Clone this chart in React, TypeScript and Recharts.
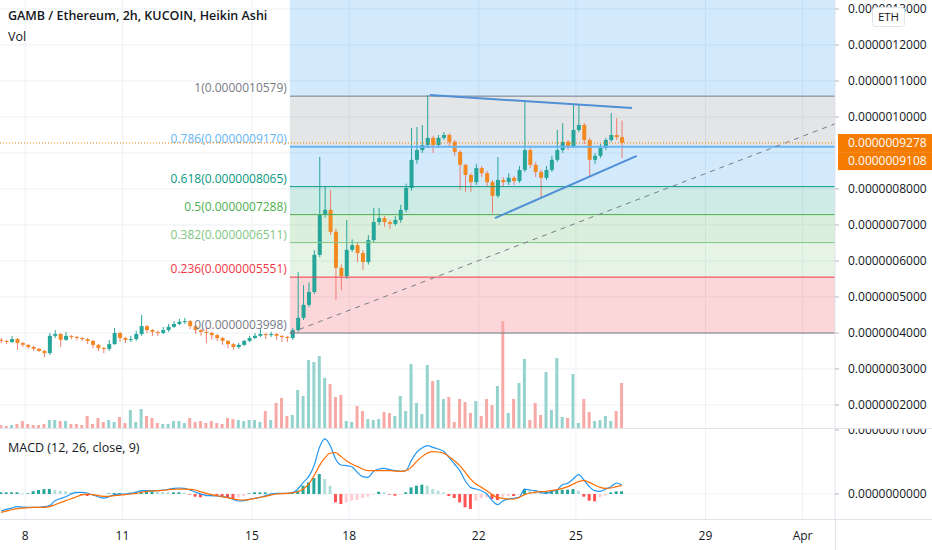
import React from "react";
import {
  Bar,
  CartesianGrid,
  Cell,
  ComposedChart,
  Line,
  ReferenceArea,
  ReferenceLine,
  XAxis,
  YAxis,
} from "recharts";

// Heikin Ashi candles, one per 4 hours starting 7 Mar 06:00 (prices in 1e-9 ETH)
const startDay = 7.25;
const haOpen = [
  381, 378, 375, 383, 372, 367, 361, 356, 350, 344,
  392, 397, 381, 392, 389, 386, 383, 378, 367, 358,
  356, 369, 400, 386, 381, 383, 397, 419, 408, 403,
  400, 408, 417, 425, 431, 433, 419, 408, 403, 400,
  394, 386, 378, 369, 361, 367, 378, 386, 392, 397,
  394, 397, 392, 389, 386, 408, 442, 478, 514, 617,
  728, 742, 681, 581, 558, 631, 644, 622, 597, 658,
  708, 719, 708, 703, 714, 742, 803, 881, 908, 922,
  942, 922, 942, 950, 931, 903, 867, 839, 819, 858,
  844, 819, 781, 825, 819, 831, 822, 853, 908, 867,
  847, 831, 853, 881, 908, 931, 919, 964, 978, 936,
  881, 892, 914, 936, 950, 944,
];
const haHigh = [
  386, 381, 392, 386, 375, 369, 364, 358, 353, 400,
  408, 400, 403, 394, 392, 389, 386, 381, 369, 361,
  381, 414, 403, 389, 392, 406, 450, 422, 411, 406,
  417, 425, 433, 439, 442, 436, 422, 411, 414, 403,
  397, 389, 381, 372, 372, 381, 392, 400, 414, 400,
  403, 400, 394, 392, 414, 569, 533, 540, 630, 889,
  806, 797, 690, 590, 714, 660, 650, 630, 672, 747,
  747, 725, 714, 725, 756, 815, 969, 972, 978, 1061,
  948, 950, 958, 955, 936, 908, 870, 844, 870, 864,
  850, 825, 889, 833, 844, 836, 864, 1047, 914, 875,
  853, 864, 892, 964, 983, 936, 1033, 1033, 983, 942,
  900, 925, 942, 1011, 997, 990,
];
const haLow = [
  372, 369, 372, 353, 361, 356, 350, 347, 333, 339,
  386, 361, 378, 383, 381, 378, 369, 358, 350, 344,
  350, 367, 375, 372, 375, 378, 392, 400, 392, 392,
  397, 403, 414, 422, 425, 411, 397, 392, 372, 381,
  378, 367, 358, 353, 356, 364, 375, 383, 389, 383,
  389, 381, 375, 375, 381, 403, 436, 472, 508, 610,
  720, 672, 492, 519, 550, 625, 597, 575, 590, 650,
  700, 695, 690, 698, 706, 735, 795, 870, 900, 914,
  900, 914, 936, 920, 892, 797, 792, 792, 811, 833,
  806, 733, 775, 806, 811, 811, 817, 847, 858, 833,
  778, 825, 847, 875, 900, 908, 914, 958, 925, 833,
  870, 886, 908, 931, 936, 886,
];
const haClose = [
  378, 375, 383, 372, 367, 361, 356, 350, 344, 392,
  397, 381, 392, 389, 386, 383, 378, 367, 358, 356,
  369, 400, 386, 381, 383, 397, 419, 408, 403, 400,
  408, 417, 425, 431, 433, 419, 408, 403, 400, 394,
  386, 378, 369, 361, 367, 378, 386, 392, 397, 394,
  397, 392, 389, 386, 408, 442, 478, 514, 617, 728,
  742, 681, 581, 558, 631, 644, 622, 597, 658, 708,
  719, 708, 703, 714, 742, 803, 881, 908, 922, 942,
  922, 942, 950, 931, 903, 867, 839, 819, 858, 844,
  819, 781, 825, 819, 831, 822, 853, 908, 867, 847,
  831, 853, 881, 908, 931, 919, 964, 978, 936, 881,
  892, 914, 936, 950, 944, 928,
];
const volume = [
  3, 2, 3, 4, 7, 4, 3, 3, 4, 8,
  8, 7, 7, 4, 4, 3, 12, 4, 10, 6,
  8, 6, 11, 5, 18, 6, 19, 12, 10, 5,
  4, 4, 7, 7, 5, 10, 6, 7, 5, 7,
  5, 4, 10, 9, 8, 7, 8, 8, 6, 17,
  8, 25, 30, 12, 13, 38, 32, 68, 66, 72,
  50, 44, 31, 33, 7, 6, 22, 17, 9, 8,
  9, 16, 15, 12, 32, 17, 64, 25, 14, 63,
  47, 48, 29, 31, 6, 29, 26, 15, 27, 12,
  29, 23, 42, 107, 15, 29, 45, 69, 8, 25,
  13, 56, 18, 70, 11, 10, 54, 5, 29, 16,
  7, 8, 12, 7, 17, 45,
];
// MACD (12, 26, close, 9), in 1e-9 ETH
const macdLine = [
  -26.1, -24.0, -21.9, -19.8, -20.3, -20.8, -20.8, -20.8, -19.8, -18.2,
  -10.4, -7.3, -4.2, 0, 2.6, 2.6, 1.6, -1.6, -4.2, -6.3,
  -4.2, -1.0, 0, 0, 1.0, 2.6, 5.2, 5.2, 5.2, 5.2,
  6.3, 7.3, 8.9, 9.4, 8.9, 6.3, 3.1, 0, -2.1, -2.6,
  -3.1, -4.2, -5.2, -8.3, -10.9, -10.4, -8.3, -6.8, -5.2, -2.6,
  0, 1.0, 1.0, 1.0, 2.1, 7.8, 18.2, 27.1, 44.3, 72.9,
  86.0, 75.5, 54.7, 45.3, 44.3, 42.7, 33.9, 27.1, 26.1, 35.4,
  39.1, 40.1, 38.0, 36.5, 35.4, 36.5, 52.1, 65.1, 71.9, 75.5,
  72.9, 70.3, 66.7, 57.3, 46.9, 36.5, 20.8, 10.4, 7.8, 5.2,
  0, -10.4, -16.7, -10.4, -7.8, -6.8, -5.2, 7.8, 6.3, 5.2,
  2.6, 1.0, 4.2, 6.3, 14.6, 16.7, 23.4, 30.2, 21.9, 11.5,
  5.2, 4.2, 7.8, 11.5, 17.2, 14.6,
];
const signalLine = [
  -28.7, -26.6, -24.5, -22.9, -21.9, -21.4, -20.8, -20.8, -20.8, -19.8,
  -16.7, -13.5, -10.4, -7.3, -4.2, -1.0, 0, -1.0, -2.6, -3.6,
  -3.6, -2.6, -1.6, -1.0, 0, 1.0, 2.6, 4.2, 4.7, 5.2,
  5.7, 6.8, 7.3, 7.8, 7.8, 7.3, 6.3, 3.6, 1.0, -1.0,
  -2.6, -4.2, -5.7, -7.3, -8.9, -9.4, -8.3, -6.8, -5.2, -3.6,
  -1.6, 0, 0.5, 1.0, 2.1, 3.6, 7.8, 15.6, 28.7, 44.3,
  56.3, 64.1, 64.6, 58.4, 52.1, 46.9, 43.2, 39.1, 36.5, 36.5,
  36.5, 36.5, 36.5, 35.9, 35.4, 36.5, 41.7, 51.1, 58.4, 64.1,
  66.2, 65.6, 63.6, 58.4, 52.1, 44.3, 33.9, 23.4, 15.6, 10.4,
  5.2, -1.0, -5.2, -6.8, -7.8, -7.8, -5.2, -1.0, 1.6, 3.1,
  3.6, 4.2, 5.2, 6.8, 8.9, 11.5, 15.6, 19.3, 20.8, 18.2,
  14.1, 10.4, 8.9, 9.4, 11.5, 13.0,
];
const macdHist = [
  2.6, 2.6, 2.6, 2.6, 1.0, 1.0, 4.2, 6.3, 7.8, 7.8,
  6.3, 5.2, 4.2, 2.6, 1.0, -2.1, -3.1, -2.1, -1.0, 0,
  1.0, 1.6, 1.6, 1.0, 2.1, 3.6, 4.2, 4.2, 4.2, 3.6,
  3.1, 2.6, 2.6, 2.6, 2.1, -1.0, -4.2, -5.2, -4.2, -3.1,
  -3.1, -4.2, -5.2, -6.3, -5.2, -3.1, 1.0, 2.6, 2.6, 2.6,
  2.1, 1.6, 1.6, 1.0, 2.6, 5.2, 13.0, 18.2, 25.0, 31.3,
  23.4, 13.0, -13.0, -15.6, -13.0, -10.4, -9.4, -6.3, -4.2, -1.0,
  3.6, 2.6, -1.0, -2.6, -1.0, 2.6, 10.4, 13.0, 14.6, 13.0,
  7.8, 5.2, 2.6, -3.1, -6.3, -13.0, -20.8, -23.4, -10.4, -6.3,
  -5.2, -7.8, -9.4, -4.2, -3.1, -3.1, -1.0, 7.8, 5.2, 4.2,
  2.6, 4.2, 5.2, 6.3, 6.8, 6.8, 7.8, 5.2, -4.2, -10.4,
  -11.5, -5.2, -2.6, 2.6, 4.2, 4.2,
];

const dayTicks = [8, 11, 15, 18, 22, 25, 29, 32];
const dayLabels = ["8", "11", "15", "18", "22", "25", "29", "Apr"];
const dayDomain = [7.22, 33.0];
const priceDomain = [136, 1325];
const priceGrid = [200, 300, 400, 500, 600, 700, 800, 900, 1000, 1100, 1200, 1300];
const priceTicks = [200, 300, 400, 500, 600, 700, 800, 1000, 1100, 1200, 1300];
const macdDomain = [-39, 100];
const macdTicks = [0, 100];

// Fibonacci retracement drawn from the 16 Mar low
const fibStart = 16.17;
const fibRatios = ["1", "0.786", "0.618", "0.5", "0.382", "0.236", "0"];
const fibPrices = [1057.9, 917.0, 806.5, 728.8, 651.1, 555.1, 399.8];
const fibColors = ["#787b86", "#64b5f6", "#089981", "#4caf50", "#81c784", "#f23645", "#787b86"];
const zoneFills = [
  "rgba(33,150,243,0.2)",
  "rgba(120,123,134,0.2)",
  "rgba(33,150,243,0.2)",
  "rgba(8,153,129,0.2)",
  "rgba(76,175,80,0.2)",
  "rgba(129,199,132,0.2)",
  "rgba(242,54,69,0.2)",
];

// hand-drawn lines: [day, price]
const resistance = [[20.49, 1061], [26.73, 1025]];
const support = [[22.5, 719], [26.88, 892]];
const guide = [[16.17, 399.8], [33.0, 981]];

const lastPrice = 927.8;
const haPrice = 910.8;

const FONT = "'Open Sans', 'Noto Sans', sans-serif";
const UP = "#26a69a";
const DOWN = "#f38a21";
const DOWN_WICK = "#ee7d6e";

const fmtPrice = (v: number) => (v / 1e9).toFixed(10);

const rows = haOpen.map((o, i) => ({
  t: startDay + i / 6,
  open: o,
  high: haHigh[i],
  low: haLow[i],
  close: haClose[i],
  range: [haLow[i], haHigh[i]],
  vol: volume[i],
  macd: macdLine[i],
  signal: signalLine[i],
  hist: macdHist[i],
}));

function Candle(props: any) {
  const { x, y, width, height, payload } = props;
  if (height == null || !payload) return null;
  const { open, close, high, low } = payload;
  const k = height / (high - low);
  const yOpen = y + (high - open) * k;
  const yClose = y + (high - close) * k;
  const up = close >= open;
  const cx = x + width / 2;
  const top = Math.min(yOpen, yClose);
  return (
    <g>
      <line x1={cx} x2={cx} y1={y} y2={y + height} stroke={up ? UP : DOWN_WICK} strokeWidth={1} />
      <rect x={x} y={top} width={width} height={Math.max(Math.abs(yClose - yOpen), 1)} fill={up ? UP : DOWN} />
    </g>
  );
}

function FibLabel(props: any) {
  const { viewBox, text, color } = props;
  if (!viewBox) return null;
  return (
    <text x={viewBox.x - 3} y={viewBox.y - 4} textAnchor="end" fill={color} fontSize={12} fontFamily={FONT}>
      {text}
    </text>
  );
}

// price tag on the right axis; shift moves it off a neighbouring tag like TradingView does
function PriceTag(props: any) {
  const { viewBox, value, shift = 0 } = props;
  if (!viewBox) return null;
  const x = viewBox.x + viewBox.width + 3;
  const cy = viewBox.y + shift;
  return (
    <g>
      <rect x={x} y={cy - 9} width={94} height={18} fill="#f57c00" />
      <text x={x + 10} y={cy + 4} fill="#fff" fontSize={12} fontFamily={FONT}>
        {fmtPrice(value)}
      </text>
    </g>
  );
}

function histColor(i: number) {
  const v = macdHist[i];
  const prev = i > 0 ? macdHist[i - 1] : 0;
  if (v >= 0) return v >= prev ? "#26a69a" : "#b2dfdb";
  return v <= prev ? "#ff5252" : "#ffcdd2";
}

const axisTick = { fill: "#131722", fontSize: 12, fontFamily: FONT };

export default function App() {
  const zoneBounds = [priceDomain[1], ...fibPrices];

  return (
    <div style={{ position: "relative", width: 932, height: 550, background: "#fff", fontFamily: FONT }}>
      <style>{"body{margin:0}"}</style>

      <div style={{ position: "absolute", left: 0, top: 0 }}>
        <ComposedChart width={932} height={428} data={rows} margin={{ top: 0, right: 0, bottom: 0, left: 0 }}>
          <XAxis type="number" dataKey="t" domain={dayDomain} allowDataOverflow hide />
          <XAxis xAxisId="v" type="number" dataKey="t" domain={dayDomain} allowDataOverflow hide />
          <YAxis
            orientation="right"
            width={97}
            domain={priceDomain}
            allowDataOverflow
            ticks={priceTicks}
            interval={0}
            tickFormatter={fmtPrice}
            tick={axisTick}
            tickSize={4}
            tickMargin={9}
            tickLine={{ stroke: "#b2b5be" }}
            axisLine={{ stroke: "#e0e3eb" }}
          />
          <YAxis yAxisId="v" domain={[0, 428]} hide />
          <CartesianGrid stroke="#eef0f4" verticalValues={dayTicks} horizontalValues={priceGrid} />

          {zoneFills.map((fill, i) => (
            <ReferenceArea
              key={"z" + i}
              x1={fibStart}
              x2={dayDomain[1]}
              y1={zoneBounds[i + 1]}
              y2={zoneBounds[i]}
              fill={fill}
              fillOpacity={1}
              stroke="none"
            />
          ))}

          <Bar xAxisId="v" yAxisId="v" dataKey="vol" barSize={3} isAnimationActive={false}>
            {rows.map((r, i) => (
              <Cell key={i} fill={r.close >= r.open ? "#94d3cd" : "#f7a9a6"} />
            ))}
          </Bar>
          <Bar dataKey="range" barSize={4} shape={<Candle />} isAnimationActive={false} />

          {fibPrices.map((p, i) => (
            <ReferenceLine
              key={"f" + i}
              segment={[{ x: fibStart, y: p }, { x: dayDomain[1], y: p }]}
              stroke={fibColors[i]}
              strokeWidth={i === 1 ? 2 : 1}
              label={<FibLabel text={`${fibRatios[i]}(${fmtPrice(p)})`} color={fibColors[i]} />}
            />
          ))}

          <ReferenceLine
            segment={guide.map(([x, y]) => ({ x, y }))}
            stroke="#787b86"
            strokeDasharray="5 5"
          />
          <ReferenceLine segment={resistance.map(([x, y]) => ({ x, y }))} stroke="#4f8fd6" strokeWidth={2} />
          <ReferenceLine segment={support.map(([x, y]) => ({ x, y }))} stroke="#4f8fd6" strokeWidth={2} />

          <ReferenceLine y={haPrice} stroke="none" label={<PriceTag value={haPrice} shift={12} />} />
          <ReferenceLine
            y={lastPrice}
            stroke="#f57c00"
            strokeDasharray="1 2"
            label={<PriceTag value={lastPrice} />}
          />
        </ComposedChart>
      </div>

      <div style={{ position: "absolute", left: 0, top: 428 }}>
        <ComposedChart width={932} height={122} data={rows} margin={{ top: 2, right: 0, bottom: 0, left: 0 }}>
          <XAxis
            type="number"
            dataKey="t"
            domain={dayDomain}
            allowDataOverflow
            ticks={dayTicks}
            interval={0}
            tickFormatter={(v: number) => dayLabels[dayTicks.indexOf(v)]}
            tick={axisTick}
            tickLine={false}
            axisLine={false}
            height={31}
            tickMargin={6}
          />
          <YAxis
            orientation="right"
            width={97}
            domain={macdDomain}
            allowDataOverflow
            ticks={macdTicks}
            interval={0}
            tickFormatter={fmtPrice}
            tick={axisTick}
            tickSize={4}
            tickMargin={9}
            tickLine={{ stroke: "#b2b5be" }}
            axisLine={{ stroke: "#e0e3eb" }}
          />
          <CartesianGrid stroke="#eef0f4" verticalValues={dayTicks} horizontalValues={[0]} />
          <Bar dataKey="hist" barSize={3} isAnimationActive={false}>
            {rows.map((r, i) => (
              <Cell key={i} fill={histColor(i)} />
            ))}
          </Bar>
          <Line dataKey="macd" type="monotone" stroke="#2196f3" strokeWidth={1.2} dot={false} isAnimationActive={false} />
          <Line dataKey="signal" type="monotone" stroke="#ff6d00" strokeWidth={1.2} dot={false} isAnimationActive={false} />
        </ComposedChart>
      </div>

      <svg width={932} height={550} style={{ position: "absolute", left: 0, top: 0, pointerEvents: "none" }}>
        <line x1={0} x2={932} y1={428.5} y2={428.5} stroke="#e0e3eb" />
        <line x1={0} x2={932} y1={519.5} y2={519.5} stroke="#e0e3eb" />
        <line x1={835.5} x2={835.5} y1={519} y2={550} stroke="#e0e3eb" />
        <text x={8} y={20} fill="#131722" fontSize={12.5} fontWeight={600} fontFamily={FONT}>
          GAMB / Ethereum, 2h, KUCOIN, Heikin Ashi
        </text>
        <text x={8} y={41} fill="#131722" fontSize={12.5} fontFamily={FONT}>
          Vol
        </text>
        <text x={8} y={452} fill="#131722" fontSize={12.5} fontFamily={FONT}>
          MACD (12, 26, close, 9)
        </text>
        <rect x={872.5} y={7.5} width={32} height={19} rx={3} fill="#fff" stroke="#e0e3eb" />
        <text x={888.5} y={21} textAnchor="middle" fill="#131722" fontSize={11.5} fontFamily={FONT}>
          ETH
        </text>
      </svg>
    </div>
  );
}
